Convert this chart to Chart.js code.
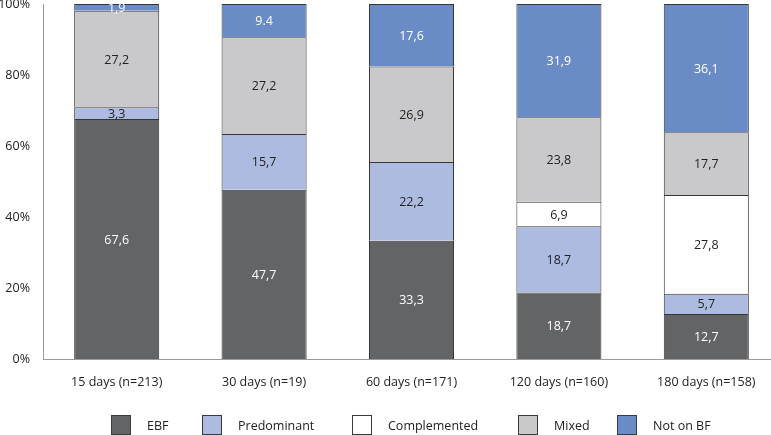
<!DOCTYPE html>
<html><head><meta charset="utf-8">
<script src="https://cdn.jsdelivr.net/npm/chart.js@4/dist/chart.umd.min.js"></script>
<style>
html,body{margin:0;padding:0;width:771px;height:435px;overflow:hidden;background:#fff;}
#wrap{position:absolute;left:0;top:0;width:780px;height:435px;}
#legend{position:absolute;left:0;top:0;width:771px;height:435px;pointer-events:none;font:12.5px "Open Sans";color:#222;}
.item{position:absolute;top:415px;display:flex;align-items:center;height:20px;white-space:nowrap;}
.sw{width:20px;height:20px;border:1px solid #3a3a3a;margin-right:16px;box-sizing:border-box;}
</style></head>
<body>
<div id="wrap"><canvas id="c"></canvas></div>
<div id="legend"></div>
<script>
// ---- data ----
const categories = ['15 days (n=213)', '30 days (n=19)', '60 days (n=171)', '120 days (n=160)', '180 days (n=158)'];
const seriesNames = ['EBF', 'Predominant', 'Complemented', 'Mixed', 'Not on BF'];
const ebf          = [67.6, 47.7, 33.3, 18.7, 12.7];
const predominant  = [3.3, 15.7, 22.2, 18.7, 5.7];
const complemented = [0, 0, 0, 6.9, 27.8];
const mixed        = [27.2, 27.2, 26.9, 23.8, 17.7];
const notOnBF      = [1.9, 9.4, 17.6, 31.9, 36.1];
const yTicks       = [0, 20, 40, 60, 80, 100];
// the reference prints one label with a point instead of a comma (series, category)
const pointDecimalLabels = [[4, 1]];

// ---- styles ----
const fills = ['#636466', '#adbbe0', '#ffffff', '#c9c9cb', '#6a8cc6'];
const labelColors = ['#ffffff', '#222222', '#222222', '#222222', '#ffffff'];
const legendLeft = [111, 202, 352, 518, 617];
const FONT = '"Open Sans", sans-serif';

const seriesData = [ebf, predominant, complemented, mixed, notOnBF];

const datasets = seriesData.map((d, i) => ({
  label: seriesNames[i],
  data: d,
  backgroundColor: fills[i],
  borderColor: '#363636',
  borderWidth: ctx => (ctx.raw ? 1 : 0),
  borderSkipped: 'start',
  categoryPercentage: 1,
  barPercentage: 0.577
}));

function fmt(v, s, c) {
  const t = v.toFixed(1);
  const dot = pointDecimalLabels.some(p => p[0] === s && p[1] === c);
  return dot ? t : t.replace('.', ',');
}

const labelPlugin = {
  id: 'barLabels',
  afterDatasetsDraw(chart) {
    const ctx = chart.ctx;
    ctx.save();
    ctx.font = '12.5px ' + FONT;
    ctx.textAlign = 'center';
    ctx.textBaseline = 'middle';
    chart.data.datasets.forEach((ds, i) => {
      const meta = chart.getDatasetMeta(i);
      meta.data.forEach((bar, j) => {
        const v = ds.data[j];
        if (!v) return;
        const p = bar.getProps(['x', 'y', 'base'], true);
        ctx.fillStyle = labelColors[i];
        ctx.fillText(fmt(v, i, j), p.x, (p.y + p.base) / 2 + 1);
      });
    });
    ctx.restore();
  }
};

new Chart(document.getElementById('c'), {
  type: 'bar',
  data: { labels: categories, datasets },
  options: {
    responsive: true,
    maintainAspectRatio: false,
    animation: false,
    layout: { padding: { top: 4, left: 0, right: 0, bottom: 0 } },
    plugins: { legend: { display: false }, tooltip: { enabled: false } },
    scales: {
      x: {
        stacked: true,
        grid: { display: false, drawTicks: false },
        border: { display: true, color: '#9a9a9a', width: 1 },
        ticks: { color: '#222', font: { family: FONT, size: 12.5 }, padding: 16, maxRotation: 0, autoSkip: false },
        afterFit(s) { s.height = 76; s.paddingLeft = 0; s.paddingRight = 0; }
      },
      y: {
        stacked: true,
        min: 0, max: 100,
        afterBuildTicks(s) { s.ticks = yTicks.map(v => ({ value: v })); },
        grid: { display: false, drawTicks: false },
        border: { display: true, color: '#9a9a9a', width: 1 },
        ticks: { color: '#222', font: { family: FONT, size: 12.5 }, padding: 13, callback: v => v + '%' },
        afterFit(s) { s.width = 43; s.paddingTop = 0; s.paddingBottom = 0; }
      }
    }
  },
  plugins: [labelPlugin]
});

// legend
const lg = document.getElementById('legend');
seriesNames.forEach((n, i) => {
  const it = document.createElement('div');
  it.className = 'item';
  it.style.left = legendLeft[i] + 'px';
  const sw = document.createElement('span');
  sw.className = 'sw';
  sw.style.background = fills[i];
  const tx = document.createElement('span');
  tx.textContent = n;
  it.appendChild(sw); it.appendChild(tx);
  lg.appendChild(it);
});
</script>
</body></html>
